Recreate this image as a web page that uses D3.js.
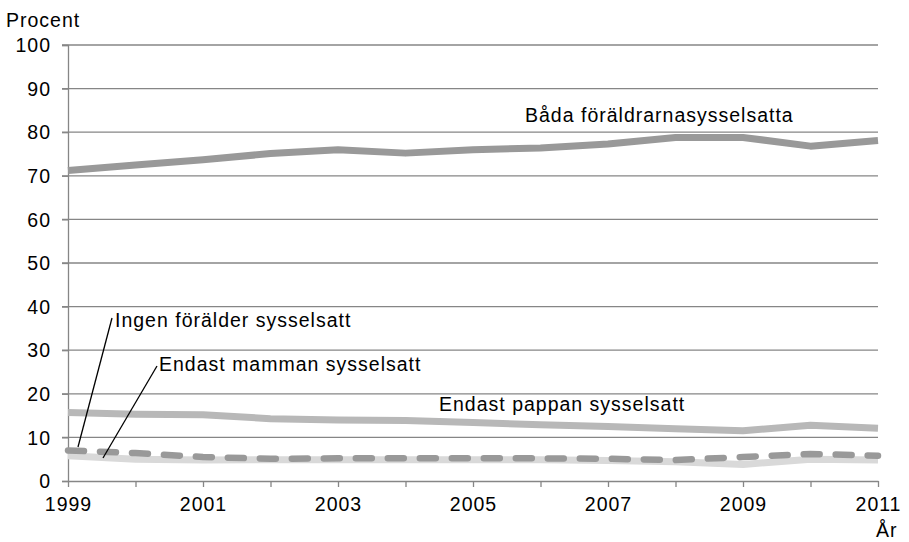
<!DOCTYPE html>
<html>
<head>
<meta charset="utf-8">
<script src="https://cdn.jsdelivr.net/npm/d3@7"></script>
<style>
  body { margin: 0; background: #fff; }
  text { font-family: "Liberation Sans", Arial, sans-serif; fill: #000; font-size: 19.5px; letter-spacing: 1px; }
</style>
</head>
<body>
<div id="chart"></div>
<script>
const years = [1999, 2000, 2001, 2002, 2003, 2004, 2005, 2006, 2007, 2008, 2009, 2010, 2011];
const yearLabels = [1999, 2001, 2003, 2005, 2007, 2009, 2011];
const yTicks = [0, 10, 20, 30, 40, 50, 60, 70, 80, 90, 100];

const bada   = [71.2, 72.5, 73.7, 75.1, 76.0, 75.2, 76.0, 76.4, 77.3, 78.8, 78.8, 76.8, 78.1];
const pappan = [15.7, 15.3, 15.2, 14.3, 14.0, 13.9, 13.4, 12.9, 12.5, 12.0, 11.5, 12.8, 12.1];
const mamman = [7.0, 6.4, 5.5, 5.1, 5.2, 5.2, 5.2, 5.2, 5.1, 4.8, 5.5, 6.2, 5.8];
const ingen  = [5.8, 5.0, 4.8, 4.9, 4.9, 4.9, 4.9, 4.9, 4.7, 4.4, 3.8, 5.0, 4.8];

const W = 909, H = 542;
const margin = {top: 45, right: 31, bottom: 61, left: 68};
const width = W - margin.left - margin.right,
      height = H - margin.top - margin.bottom;

const svg = d3.select("#chart").append("svg")
    .attr("width", W)
    .attr("height", H);

const g = svg.append("g")
    .attr("transform", `translate(${margin.left},${margin.top})`);

const x = d3.scaleLinear().domain([1999, 2011]).range([0, width]);
const y = d3.scaleLinear().domain([0, 100]).range([height, 0]);

// gridlines
g.selectAll(".grid")
    .data(yTicks.filter(d => d > 0))
  .enter().append("line")
    .attr("x1", -6).attr("x2", width)
    .attr("y1", d => y(d)).attr("y2", d => y(d))
    .attr("stroke", "#868686").attr("stroke-width", 1.3);

// y axis
const yAxis = g.append("g")
    .call(d3.axisLeft(y).tickValues(yTicks).tickSize(6).tickPadding(11));
yAxis.select(".domain").attr("stroke", "#868686").attr("stroke-width", 1.3);
yAxis.selectAll(".tick line").attr("stroke", "#868686").attr("stroke-width", 1.3);
yAxis.selectAll("text").attr("fill", "#000")
    .attr("font-size", null).attr("font-family", null)
    .attr("dy", "0.34em");

// x axis
const xAxis = g.append("g")
    .attr("transform", `translate(0,${height})`)
    .call(d3.axisBottom(x).tickValues(years).tickSize(6).tickSizeOuter(0).tickFormat(""));
xAxis.select(".domain").attr("stroke", "#868686").attr("stroke-width", 1.3);
xAxis.selectAll(".tick line").attr("stroke", "#868686").attr("stroke-width", 1.3);

g.selectAll(".xlabel")
    .data(yearLabels)
  .enter().append("text")
    .attr("x", d => x(d) + 0.5)
    .attr("y", height + 30)
    .attr("text-anchor", "middle")
    .text(d => d);

const line = d3.line()
    .x((d, i) => x(years[i]))
    .y(d => y(d));

const series = [
  {values: ingen, color: "#d9d9d9", width: 7, dash: null},
  {values: pappan, color: "#b8b8b8", width: 7, dash: null},
  {values: mamman, color: "#999999", width: 6.5, dash: "16,16"},
  {values: bada, color: "#999999", width: 7, dash: null}
];

series.forEach(s => {
  g.append("path")
    .datum(s.values)
    .attr("d", line)
    .attr("fill", "none")
    .attr("stroke", s.color)
    .attr("stroke-width", s.width)
    .attr("stroke-linejoin", "round")
    .attr("stroke-linecap", s.dash ? "round" : "butt")
    .attr("stroke-dasharray", s.dash);
});

// annotations
svg.append("text").attr("x", 6).attr("y", 27).text("Procent");
svg.append("text").attr("x", 876).attr("y", 537).text("År");

svg.append("text").attr("x", 525).attr("y", 122).text("Båda föräldrarnasysselsatta");
svg.append("text").attr("x", 439).attr("y", 411).text("Endast pappan sysselsatt");
svg.append("text").attr("x", 115).attr("y", 327).text("Ingen förälder sysselsatt");
svg.append("text").attr("x", 159).attr("y", 371).text("Endast mamman sysselsatt");

svg.append("line").attr("x1", 112).attr("y1", 318).attr("x2", 78).attr("y2", 447)
    .attr("stroke", "#000").attr("stroke-width", 1.3);
svg.append("line").attr("x1", 157).attr("y1", 366).attr("x2", 103).attr("y2", 458)
    .attr("stroke", "#000").attr("stroke-width", 1.3);
</script>
</body>
</html>
